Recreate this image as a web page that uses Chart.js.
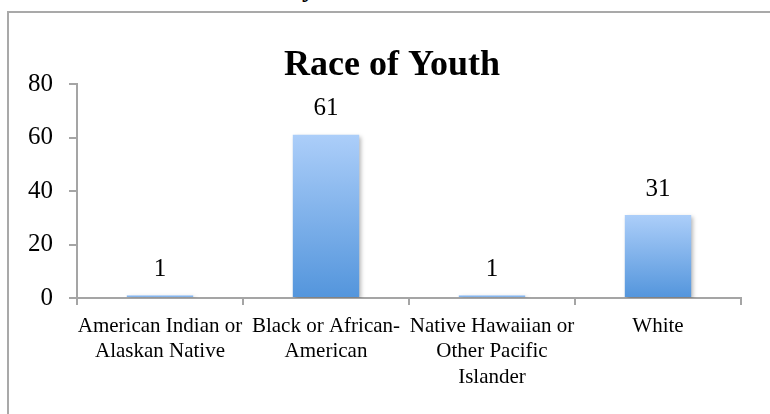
<!DOCTYPE html>
<html>
<head>
<meta charset="utf-8">
<script src="https://cdn.jsdelivr.net/npm/chart.js@4.4.1/dist/chart.umd.min.js"></script>
<style>
  html, body { margin: 0; padding: 0; background: #fff; overflow: hidden; }
  #wrap { position: relative; width: 770px; height: 414px; overflow: hidden; }
  #frag { position: absolute; left: 302px; top: -24px; font: bold 26px/26px "Liberation Serif", serif; color: #000; }
  canvas { position: absolute; left: 0; top: 0; }
</style>
</head>
<body>
<div id="wrap">
  <div id="frag">y</div>
  <canvas id="c" width="770" height="414"></canvas>
</div>
<script>
const categories = [
  ["American Indian or", "Alaskan Native"],
  ["Black or African-", "American"],
  ["Native Hawaiian or", "Other Pacific", "Islander"],
  ["White"]
];
const youthCounts = [1, 61, 1, 31];
const yTicks = [0, 20, 40, 60, 80];
const chartTitle = "Race of Youth";

const serif = '"Liberation Serif", "Times New Roman", serif';
const axisGray = '#a5a5a5';

const frameBorder = {
  id: 'frameBorder',
  beforeDraw(chart) {
    const ctx = chart.ctx;
    ctx.save();
    ctx.strokeStyle = '#a9a9a9';
    ctx.lineWidth = 2;
    ctx.beginPath();
    ctx.moveTo(8, 414);
    ctx.lineTo(8, 12);
    ctx.lineTo(770, 12);
    ctx.stroke();
    ctx.restore();
  }
};

const chartHeading = {
  id: 'chartHeading',
  afterDraw(chart) {
    const ctx = chart.ctx;
    ctx.save();
    ctx.font = 'bold 36px ' + serif;
    ctx.fillStyle = '#000';
    ctx.textAlign = 'center';
    ctx.textBaseline = 'alphabetic';
    ctx.fillText(chartTitle, 392, 75);
    ctx.restore();
  }
};

const barShadow = {
  id: 'barShadow',
  beforeDatasetsDraw(chart) {
    const ctx = chart.ctx;
    ctx.save();
    ctx.shadowColor = 'rgba(0,0,0,0.28)';
    ctx.shadowBlur = 4;
    ctx.shadowOffsetX = 2;
    ctx.shadowOffsetY = 2;
  },
  afterDatasetsDraw(chart) {
    chart.ctx.restore();
  }
};

const valueLabels = {
  id: 'valueLabels',
  afterDatasetsDraw(chart) {
    const ctx = chart.ctx;
    const meta = chart.getDatasetMeta(0);
    ctx.save();
    ctx.font = '25px ' + serif;
    ctx.fillStyle = '#000';
    ctx.textAlign = 'center';
    ctx.textBaseline = 'middle';
    meta.data.forEach((bar, i) => {
      ctx.fillText(String(chart.data.datasets[0].data[i]), bar.x, bar.y - 26);
    });
    ctx.restore();
  }
};

new Chart(document.getElementById('c'), {
  type: 'bar',
  data: {
    labels: categories,
    datasets: [{
      data: youthCounts,
      barPercentage: 0.4,
      categoryPercentage: 1.0,
      borderWidth: 0,
      backgroundColor(context) {
        const chart = context.chart;
        const area = chart.chartArea;
        if (!area || !chart.scales.y) return '#7fb0ec';
        const ys = chart.scales.y;
        const top = ys.getPixelForValue(context.raw);
        const bottom = ys.getPixelForValue(0);
        if (!isFinite(top) || !isFinite(bottom) || bottom - top < 0.5) return '#7fb0ec';
        const g = chart.ctx.createLinearGradient(0, top, 0, bottom);
        g.addColorStop(0, '#acceF9');
        g.addColorStop(1, '#5395dc');
        return g;
      }
    }]
  },
  options: {
    responsive: false,
    animation: false,
    devicePixelRatio: 1,
    layout: { padding: { top: 84, right: 29, bottom: 0, left: 0 } },
    plugins: {
      legend: { display: false },
      tooltip: { enabled: false },
      title: { display: false }
    },
    scales: {
      x: {
        grid: { offset: true, drawOnChartArea: false, drawTicks: true, tickLength: 7, color: axisGray, lineWidth: 2 },
        border: { display: true, color: axisGray, width: 2 },
        ticks: {
          color: '#000',
          font: { family: serif, size: 21, lineHeight: 1.2 },
          maxRotation: 0,
          minRotation: 0,
          autoSkip: false,
          padding: 9
        },
        afterFit(scale) { scale.height = 116; }
      },
      y: {
        min: 0,
        max: 80,
        afterBuildTicks(scale) { scale.ticks = yTicks.map(v => ({ value: v })); },
        grid: { drawOnChartArea: false, drawTicks: true, tickLength: 8, color: axisGray, lineWidth: 2 },
        border: { display: true, color: axisGray, width: 2 },
        ticks: {
          color: '#000',
          font: { family: serif, size: 25 },
          padding: 16
        },
        afterFit(scale) { scale.width = 77; }
      }
    }
  },
  plugins: [frameBorder, barShadow, valueLabels, chartHeading]
});
</script>
</body>
</html>
